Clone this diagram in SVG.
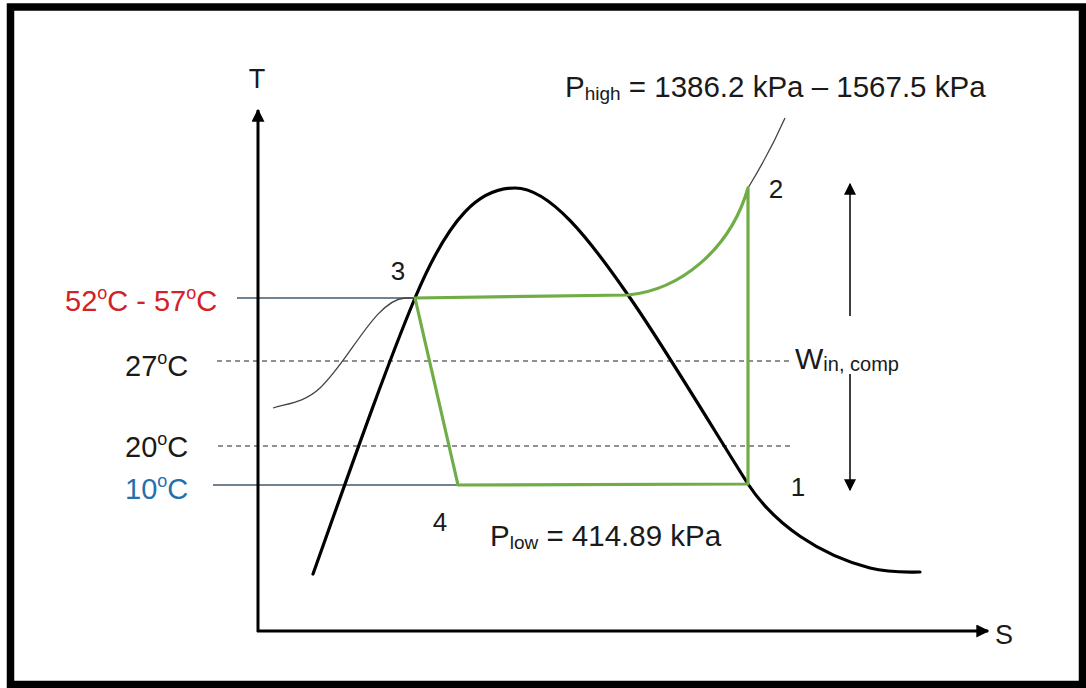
<svg xmlns="http://www.w3.org/2000/svg" width="1086" height="688" viewBox="0 0 1086 688">
<defs>
<style>
.t{font-family:"Liberation Sans",Arial,sans-serif;fill:#1a1a1a}
.ax{stroke:#000;stroke-width:3;fill:none}
.dash{stroke:#222;stroke-width:1.2;stroke-dasharray:5 4;fill:none}
.ref{stroke:#44596b;stroke-width:1.3;fill:none}
.dome{stroke:#000;stroke-width:3.2;fill:none;stroke-linecap:round}
.thin{stroke:#444;stroke-width:1.3;fill:none}
.cyc{stroke:#70ad47;stroke-width:3.2;fill:none;stroke-linejoin:round}
.arr{stroke:#000;stroke-width:1.5;fill:none}
</style>
<marker id="ah" viewBox="0 0 10 10" refX="9" refY="5" markerWidth="13" markerHeight="13" markerUnits="userSpaceOnUse" orient="auto"><path d="M0,0 L10,5 L0,10 Z" fill="#000"/></marker>
<marker id="ah2" viewBox="0 0 10 10" refX="9" refY="5" markerWidth="12" markerHeight="12" markerUnits="userSpaceOnUse" orient="auto"><path d="M0,0 L10,5 L0,10 Z" fill="#000"/></marker>
</defs>
<rect x="0" y="0" width="1086" height="688" fill="#fff"/>
<rect x="10.5" y="7" width="1072" height="677.5" fill="none" stroke="#000" stroke-width="7.5"/>

<g id="connectors">
<line class="ref" x1="237" y1="298" x2="415" y2="298"/>
<line class="ref" x1="213" y1="485" x2="458" y2="485"/>
<line class="dash" x1="217" y1="361" x2="790" y2="361"/>
<line class="dash" x1="218" y1="446" x2="790" y2="446"/>
<path class="thin" d="M273,408 C290,403 305,402 320,388 C350,360 375,300 405,298 L415,298"/>
<path class="thin" d="M748,188 Q770,152 785,118"/>
<path class="dome" d="M313,574 C350,470 385,370 415,298 C450,215 480,188 515,188 C550,188 590,240 628,295 C660,340 720,440 748,484 C775,525 820,555 870,568 C890,573 905,572 920,572"/>
<path class="cyc" d="M415,298 L628,295 C680,290 730,250 748,188 L748,484 L458,485 Z"/>
<line class="ax" x1="258" y1="632" x2="258" y2="110" marker-end="url(#ah)"/>
<line class="ax" x1="257" y1="631" x2="988" y2="631" marker-end="url(#ah)"/>
<line class="arr" x1="850" y1="316" x2="850" y2="184" marker-end="url(#ah2)"/>
<line class="arr" x1="850" y1="374" x2="850" y2="490" marker-end="url(#ah2)"/>
</g>

<g id="axis-labels">
<text class="t" x="257" y="88" font-size="27" text-anchor="middle">T</text>
<text class="t" x="995" y="644" font-size="27">S</text>
</g>

<g id="temps">
<text class="t" x="65" y="311" font-size="29" style="fill:#d42027">52<tspan font-size="18" dy="-12">o</tspan><tspan dy="12">C - 57</tspan><tspan font-size="18" dy="-12">o</tspan><tspan dy="12">C</tspan></text>
<text class="t" x="125" y="376" font-size="29">27<tspan font-size="18" dy="-12">o</tspan><tspan dy="12">C</tspan></text>
<text class="t" x="125" y="457" font-size="29">20<tspan font-size="18" dy="-12">o</tspan><tspan dy="12">C</tspan></text>
<text class="t" x="125" y="499" font-size="29" style="fill:#2371ac">10<tspan font-size="18" dy="-12">o</tspan><tspan dy="12">C</tspan></text>
</g>

<g id="points">
<text class="t" x="398" y="280" font-size="26" text-anchor="middle">3</text>
<text class="t" x="776" y="198" font-size="26" text-anchor="middle">2</text>
<text class="t" x="798" y="496" font-size="26" text-anchor="middle">1</text>
<text class="t" x="440" y="531" font-size="26" text-anchor="middle">4</text>
</g>

<g id="pressures">
<text class="t" x="565" y="97" font-size="29.5">P<tspan font-size="19" dy="3">high</tspan><tspan dy="-3"> = 1386.2 kPa – 1567.5 kPa</tspan></text>
<text class="t" x="490" y="546" font-size="29.5">P<tspan font-size="19" dy="3">low</tspan><tspan dy="-3"> = 414.89 kPa</tspan></text>
</g>

<g id="work">
<text class="t" x="795" y="369" font-size="30">W<tspan font-size="20" dy="2">in, comp</tspan></text>
</g>
</svg>
